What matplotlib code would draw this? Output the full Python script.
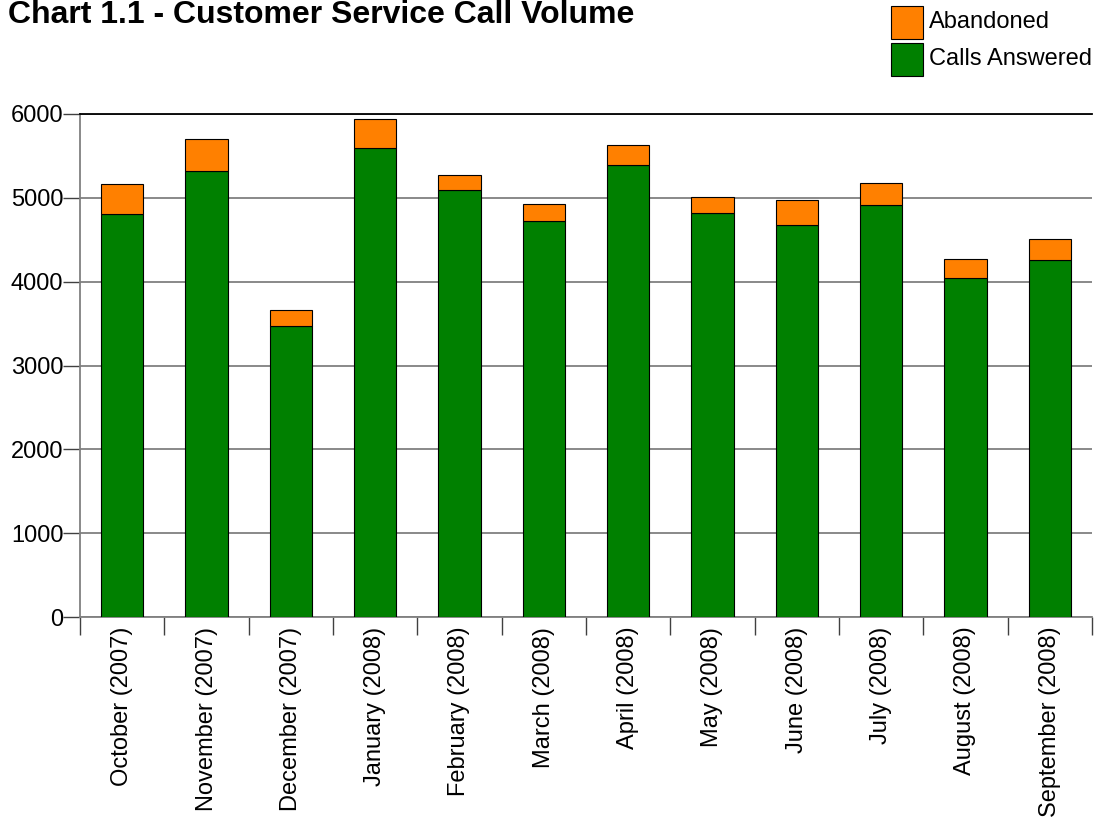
import numpy as np
import matplotlib.pyplot as plt
from matplotlib.patches import Rectangle

plt.rcParams['font.family'] = ['Liberation Sans', 'DejaVu Sans']

months = ["October (2007)", "November (2007)", "December (2007)", "January (2008)",
          "February (2008)", "March (2008)", "April (2008)", "May (2008)",
          "June (2008)", "July (2008)", "August (2008)", "September (2008)"]
answered = [4805, 5322, 3469, 5597, 5092, 4726, 5394, 4821, 4678, 4916, 4045, 4260]
abandoned = [362, 382, 194, 346, 182, 202, 238, 191, 294, 259, 223, 251]
series_names = ["Abandoned", "Calls Answered"]

green = "#008000"
orange = "#FF8000"

W, H = 1097, 824
fig = plt.figure(figsize=(W / 100, H / 100), dpi=100)
ax = fig.add_axes([80 / W, 1 - 617 / H, 1012 / W, 503 / H])

x = np.arange(len(months))
ax.bar(x, answered, width=0.5, color=green, edgecolor="black", linewidth=0.8, zorder=3)
ax.bar(x, abandoned, width=0.5, bottom=answered, color=orange, edgecolor="black",
       linewidth=0.8, zorder=3)

ax.set_xlim(-0.5, len(months) - 0.5)
ax.set_ylim(0, 6000)
ax.set_yticks(range(0, 6001, 1000))
ax.yaxis.grid(True, color="#808080", linewidth=1.3, zorder=0)

# category labels at centres, tick marks on the boundaries
ax.set_xticks(x)
ax.set_xticklabels(months, rotation=90, fontsize=17)
ax.set_xticks(np.arange(-0.5, len(months)), minor=True)
ax.tick_params(axis="x", which="major", length=0, pad=7)
ax.tick_params(axis="x", which="minor", length=13, color="#404040", width=1)
ax.tick_params(axis="y", length=12, color="#404040", width=1, labelsize=17, pad=0)

for side in ("left", "bottom"):
    ax.spines[side].set_color("#808080")
    ax.spines[side].set_linewidth(1.3)
ax.spines["right"].set_visible(False)
ax.spines["top"].set_color("black")
ax.spines["top"].set_linewidth(1.3)

fig.text(8 / W, 1 - 15 / H, "Chart 1.1 - Customer Service Call Volume", fontsize=23,
         fontweight="bold", va="center", ha="left")

# legend drawn in figure pixels
for i, (name, col) in enumerate(zip(series_names, [orange, green])):
    top = 6 + i * 37
    fig.patches.append(Rectangle((891 / W, 1 - (top + 33) / H), 32 / W, 33 / H,
                                 transform=fig.transFigure, facecolor=col,
                                 edgecolor="black", linewidth=0.8))
    fig.text(929 / W, 1 - (top + 16) / H, name, fontsize=17, va="center", ha="left")

fig.savefig("out.png", dpi=100)
